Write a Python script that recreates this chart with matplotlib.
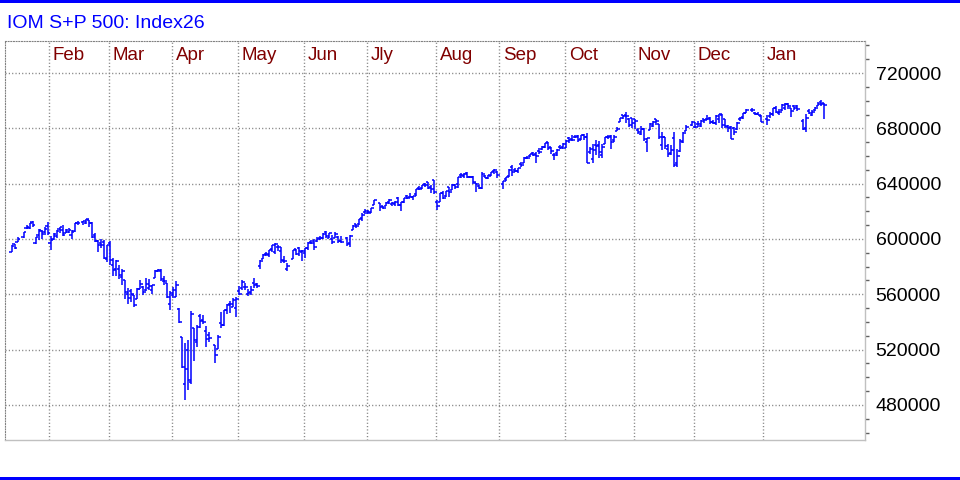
import numpy as np
import pandas as pd
import matplotlib
matplotlib.use("Agg")
import matplotlib.pyplot as plt
import matplotlib.transforms as mtransforms
from matplotlib.collections import LineCollection
from matplotlib.patches import Rectangle
from matplotlib.ticker import MultipleLocator, FuncFormatter

plt.rcParams['font.family'] = ['Liberation Sans', 'DejaVu Sans']

title = "IOM S+P 500: Index26"
first_day, last_day = "2025-01-15", "2026-01-29"
# weekdays with no trading: they stay as empty slots on the chart
holidays = ["2025-01-20", "2025-02-17", "2025-04-18", "2025-05-26", "2025-06-19",
            "2025-07-04", "2025-09-01", "2025-11-27", "2025-12-25", "2026-01-01",
            "2026-01-19"]
month_names = ["Feb", "Mar", "Apr", "May", "Jun", "Jly", "Aug", "Sep", "Oct", "Nov", "Dec", "Jan"]

# daily bars in index points (chart shows points x 100), one row per month
opens = [
    5905, 5964, 5980, 6015, 6081, 6076, 6121, 5970, 6027, 6057, 6050, 6097,
    5969, 5998, 6020, 6073, 6068, 6046, 6050, 6026, 6061, 6115, 6121, 6118, 6134, 6115, 6027, 5982, 5971, 5981, 5857,
    5969, 5812, 5781, 5786, 5726, 5705, 5604, 5624, 5594, 5563, 5635, 5655, 5633, 5646, 5630, 5718, 5771, 5772, 5696, 5679, 5527,
    5597, 5581, 5492, 5292, 4954, 5194, 4966, 5353, 5255, 5441, 5412, 5335, 5305, 5232, 5207, 5395, 5381, 5489, 5529, 5508, 5499,
    5626, 5645, 5655, 5605, 5620, 5680, 5676, 5807, 5854, 5888, 5882, 5929, 5903, 5945, 5912, 5842, 5782, 5855, 5926, 5938, 5903,
    5896, 5938, 5978, 5985, 5987, 6005, 6010, 6049, 6010, 6000, 6005, 6012, 5987, 6004, 5970, 6062, 6105, 6106, 6151, 6193,
    6187, 6191, 6247, 6259, 6235, 6241, 6264, 6255, 6255, 6295, 6249, 6264, 6308, 6305, 6307, 6326, 6368, 6371, 6397, 6409, 6378, 6427,
    6269, 6271, 6336, 6311, 6374, 6357, 6389, 6398, 6462, 6453, 6478, 6445, 6446, 6407, 6385, 6371, 6457, 6441, 6458, 6489, 6487,
    6401, 6434, 6457, 6521, 6497, 6495, 6542, 6546, 6588, 6603, 6624, 6614, 6637, 6649, 6662, 6698, 6664, 6607, 6621, 6662, 6662,
    6659, 6731, 6722, 6735, 6746, 6722, 6750, 6740, 6627, 6575, 6678, 6681, 6604, 6690, 6737, 6743, 6714, 6779, 6848, 6896, 6900, 6871, 6873,
    6867, 6786, 6762, 6793, 6698, 6785, 6815, 6867, 6833, 6676, 6736, 6653, 6623, 6733, 6550, 6636, 6700, 6780, 6823,
    6812, 6830, 6816, 6866, 6867, 6876, 6847, 6841, 6867, 6897, 6865, 6813, 6812, 6801, 6794, 6865, 6884, 6913, 6935, 6914, 6905, 6891,
    6870, 6886, 6907, 6945, 6910, 6935, 6944, 6977, 6944, 6960, 6960, 6850, 6806, 6922, 6900, 6930, 6964, 6990, 6980,
]
highs = [
    5960, 5964, 6014, 6051, 6101, 6119, 6128, 6017, 6070, 6063, 6086, 6121,
    6022, 6042, 6062, 6084, 6101, 6074, 6076, 6064, 6116, 6128, 6129, 6147, 6134, 6120, 6044, 5992, 6001, 5994, 5959,
    5987, 5866, 5847, 5812, 5783, 5705, 5649, 5642, 5597, 5645, 5703, 5657, 5716, 5712, 5669, 5775, 5783, 5786, 5732, 5685, 5621,
    5650, 5695, 5500, 5293, 5246, 5268, 5482, 5353, 5381, 5459, 5450, 5368, 5328, 5233, 5309, 5469, 5489, 5528, 5554, 5571, 5581,
    5658, 5700, 5683, 5640, 5658, 5721, 5683, 5845, 5893, 5906, 5917, 5959, 5968, 5954, 5939, 5878, 5830, 5922, 5930, 5943, 5922,
    5937, 5981, 5990, 5999, 6017, 6022, 6043, 6060, 6046, 6027, 6051, 6024, 6019, 6018, 6028, 6102, 6109, 6146, 6187, 6215,
    6210, 6227, 6284, 6263, 6242, 6265, 6290, 6269, 6272, 6303, 6268, 6298, 6316, 6336, 6310, 6360, 6381, 6390, 6402, 6409, 6390, 6428,
    6279, 6330, 6344, 6346, 6379, 6395, 6398, 6446, 6480, 6474, 6481, 6459, 6456, 6408, 6393, 6482, 6466, 6466, 6483, 6508, 6489,
    6416, 6450, 6503, 6533, 6512, 6513, 6555, 6592, 6600, 6616, 6627, 6626, 6656, 6671, 6697, 6699, 6668, 6624, 6650, 6677, 6693,
    6718, 6734, 6750, 6755, 6749, 6754, 6756, 6764, 6663, 6684, 6717, 6706, 6686, 6740, 6752, 6751, 6750, 6808, 6876, 6900, 6920, 6878, 6874,
    6871, 6803, 6820, 6802, 6729, 6841, 6850, 6869, 6834, 6775, 6739, 6685, 6683, 6771, 6650, 6721, 6777, 6821, 6850,
    6843, 6852, 6857, 6866, 6895, 6880, 6862, 6900, 6903, 6902, 6866, 6821, 6819, 6810, 6843, 6880, 6912, 6937, 6945, 6920, 6916, 6893,
    6900, 6921, 6945, 6965, 6937, 6978, 6986, 6985, 6950, 6970, 6967, 6870, 6904, 6937, 6930, 6955, 6988, 7002, 6980,
]
lows = [
    5905, 5931, 5979, 6007, 6074, 6075, 6089, 5962, 5994, 6001, 6028, 6030,
    5923, 5991, 6007, 6044, 6019, 6045, 6042, 6003, 6052, 6103, 6100, 6112, 6084, 6009, 5977, 5909, 5933, 5858, 5837,
    5810, 5733, 5733, 5711, 5667, 5565, 5529, 5547, 5505, 5563, 5635, 5598, 5622, 5632, 5603, 5718, 5759, 5695, 5670, 5572, 5489,
    5573, 5579, 5391, 5069, 4835, 4910, 4950, 5116, 5220, 5358, 5387, 5220, 5255, 5101, 5207, 5357, 5371, 5456, 5468, 5505, 5434,
    5597, 5629, 5634, 5590, 5593, 5646, 5646, 5786, 5854, 5877, 5868, 5907, 5895, 5915, 5830, 5825, 5767, 5855, 5886, 5875, 5843,
    5861, 5921, 5966, 5921, 5978, 5994, 6000, 6007, 6004, 5964, 6005, 5971, 5970, 5953, 5943, 6062, 6076, 6099, 6133, 6180,
    6178, 6188, 6247, 6201, 6217, 6236, 6251, 6237, 6237, 6242, 6202, 6259, 6290, 6303, 6281, 6312, 6354, 6364, 6379, 6362, 6332, 6327,
    6212, 6271, 6290, 6303, 6303, 6355, 6361, 6371, 6444, 6441, 6444, 6441, 6400, 6343, 6361, 6365, 6438, 6436, 6452, 6471, 6444,
    6360, 6420, 6447, 6454, 6485, 6480, 6522, 6546, 6579, 6596, 6597, 6551, 6615, 6640, 6657, 6645, 6618, 6570, 6603, 6648, 6648,
    6656, 6697, 6705, 6729, 6699, 6716, 6715, 6550, 6617, 6551, 6610, 6589, 6585, 6690, 6720, 6654, 6700, 6779, 6848, 6869, 6841, 6812, 6803,
    6795, 6758, 6750, 6708, 6631, 6785, 6807, 6821, 6724, 6646, 6650, 6591, 6608, 6522, 6521, 6632, 6696, 6780, 6818,
    6799, 6810, 6811, 6835, 6859, 6834, 6832, 6824, 6841, 6801, 6806, 6776, 6720, 6753, 6791, 6852, 6867, 6910, 6921, 6895, 6893, 6845,
    6824, 6872, 6889, 6910, 6896, 6926, 6934, 6938, 6885, 6930, 6925, 6789, 6775, 6903, 6890, 6925, 6960, 6962, 6871,
]
closes = [
    5950, 5937, 5997, 6049, 6086, 6119, 6101, 6012, 6068, 6039, 6071, 6041,
    5994, 6037, 6061, 6084, 6026, 6066, 6068, 6052, 6115, 6115, 6129, 6144, 6117, 6013, 5983, 5955, 5956, 5861, 5955,
    5850, 5778, 5843, 5739, 5770, 5615, 5572, 5599, 5522, 5639, 5675, 5615, 5675, 5663, 5667, 5768, 5777, 5712, 5693, 5581, 5612,
    5633, 5671, 5397, 5074, 5062, 4982, 5457, 5268, 5363, 5406, 5397, 5276, 5283, 5158, 5288, 5376, 5485, 5525, 5529, 5561, 5569,
    5604, 5687, 5650, 5607, 5631, 5664, 5660, 5844, 5886, 5893, 5917, 5958, 5964, 5940, 5845, 5842, 5803, 5922, 5889, 5912, 5912,
    5936, 5970, 5971, 5939, 6000, 6006, 6039, 6022, 6045, 5977, 6033, 5982, 5981, 5967, 6025, 6092, 6092, 6141, 6173, 6205,
    6198, 6227, 6279, 6230, 6226, 6263, 6280, 6260, 6269, 6244, 6264, 6297, 6297, 6306, 6309, 6359, 6363, 6389, 6390, 6371, 6362, 6339,
    6238, 6330, 6299, 6345, 6340, 6389, 6374, 6446, 6466, 6469, 6450, 6449, 6411, 6396, 6370, 6467, 6439, 6465, 6481, 6502, 6460,
    6416, 6448, 6502, 6482, 6495, 6513, 6532, 6587, 6584, 6615, 6607, 6600, 6631, 6664, 6694, 6657, 6638, 6605, 6644, 6661, 6688,
    6711, 6715, 6716, 6740, 6714, 6753, 6735, 6553, 6654, 6644, 6671, 6630, 6664, 6735, 6735, 6699, 6738, 6792, 6875, 6891, 6890, 6822, 6840,
    6852, 6771, 6796, 6720, 6728, 6832, 6846, 6851, 6737, 6734, 6672, 6617, 6642, 6538, 6603, 6705, 6766, 6813, 6849,
    6813, 6829, 6850, 6857, 6870, 6846, 6840, 6887, 6901, 6827, 6816, 6800, 6721, 6775, 6835, 6878, 6910, 6932, 6930, 6905, 6896, 6845,
    6858, 6902, 6945, 6921, 6921, 6966, 6977, 6963, 6927, 6944, 6940, 6797, 6876, 6913, 6916, 6950, 6979, 6978, 6969,
]

weekdays = pd.bdate_range(first_day, last_day)
trading = weekdays[~weekdays.isin(pd.to_datetime(holidays))]
x = weekdays.get_indexer(trading).astype(float)
o, h, l, c = (np.array(v, dtype=float) * 100 for v in (opens, highs, lows, closes))

month_pos = np.where(weekdays.month[1:] != weekdays.month[:-1])[0] + 1 - 0.5

fig = plt.figure(figsize=(9.6, 4.8), dpi=100)
fig.patch.set_facecolor('white')
ax = fig.add_axes([5 / 960, 1 - 440.3 / 480, 859.6 / 960, 399.6 / 480])

tick = 0.7
segs = []
for xi, oi, hi, li, ci in zip(x, o, h, l, c):
    segs.append([(xi, li), (xi, hi)])
    segs.append([(xi - tick, oi), (xi, oi)])
    segs.append([(xi, ci), (xi + tick, ci)])
ax.add_collection(LineCollection(segs, colors='#0000ff', linewidths=1.1, capstyle='butt'))

ax.set_xlim(-2.17, 284.4)
ax.set_ylim(454480, 743350)

dots = (0, (0.8, 1.6))
ax.yaxis.set_major_locator(MultipleLocator(40000))
ax.yaxis.set_minor_locator(MultipleLocator(10000))
ax.yaxis.set_major_formatter(FuncFormatter(lambda v, p: f"{v:.0f}"))
ax.yaxis.tick_right()
ax.tick_params(axis='y', which='major', length=0, pad=8, labelsize=14, labelcolor='black')
ax.tick_params(axis='y', which='minor', length=3, width=1, color='#606060', direction='out')
ax.set_xticks([])
ax.grid(axis='y', which='major', color='#808080', linestyle=dots, linewidth=1.0)
for mp in month_pos:
    ax.axvline(mp, color='#808080', linestyle=dots, linewidth=1.0, zorder=0)

trans = mtransforms.blended_transform_factory(ax.transData, ax.transAxes)
for mp, name in zip(month_pos, month_names):
    ax.text(mp + 1.3, 0.963, name, transform=trans, color='#800000', fontsize=13.5,
            ha='left', va='center')

for side in ('top', 'left'):
    ax.spines[side].set_linestyle(dots)
    ax.spines[side].set_color('#808080')
for side in ('right', 'bottom'):
    ax.spines[side].set_color('#c0c0c0')
    ax.spines[side].set_linewidth(1.0)

fig.text(7 / 960, 1 - 27.5 / 480, title, color='#0000ff', fontsize=14, va='baseline', ha='left')
fig.add_artist(Rectangle((0, 1 - 3 / 480), 1, 3 / 480, transform=fig.transFigure,
                         color='#0000ff', lw=0))
fig.add_artist(Rectangle((0, 0), 1, 3 / 480, transform=fig.transFigure,
                         color='#0000ff', lw=0))

fig.savefig('out.png', dpi=100)
